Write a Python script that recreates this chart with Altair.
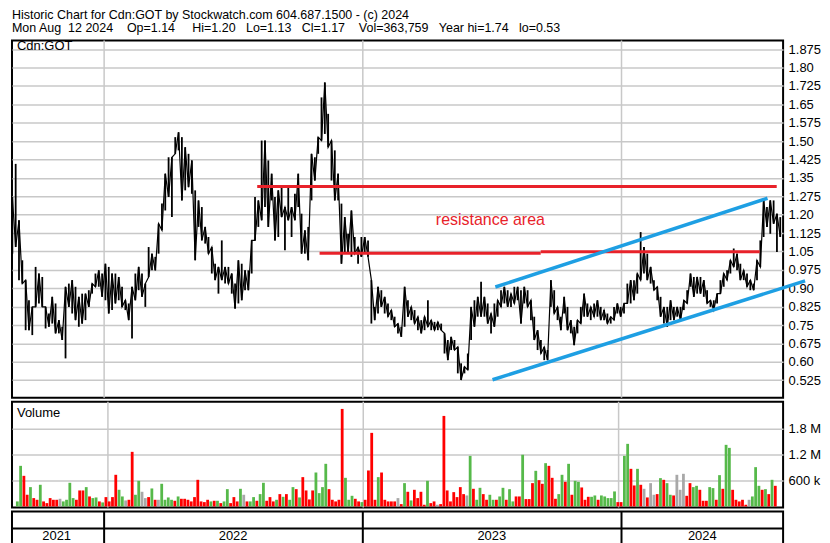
import altair as alt
import pandas as pd

FONT = "Liberation Sans"
RED = "#e8222a"
BLUE = "#1e9fe3"
GRID = "#c8c8c8"

# ---------------- data ----------------
N = 232
START, END = "2021-08-24 12:00", "2024-08-12"

HI = [1.272, 1.407, 1.177, 1.014, 0.933, 0.851, 0.824, 0.987, 0.960, 0.946,
      0.824, 0.797, 0.865, 0.838, 0.770, 0.743, 0.906, 0.919, 0.933, 0.906,
      0.865, 0.878, 0.878, 0.892, 0.919, 0.960, 0.973, 0.960, 1.000, 0.987,
      0.960, 0.960, 0.946, 0.906, 0.851, 0.838, 0.906, 0.960, 0.987, 0.960,
      0.919, 1.068, 1.041, 1.028, 1.163, 1.245, 1.367, 1.434, 1.434, 1.516,
      1.536, 1.516, 1.475, 1.448, 1.421, 1.299, 1.258, 1.231, 1.150, 1.109,
      1.068, 1.000, 0.987, 1.095, 0.987, 0.987, 0.960, 0.919, 1.014, 1.000,
      0.973, 0.973, 1.095, 1.272, 1.258, 1.502, 1.502, 1.421, 1.367, 1.272,
      1.299, 1.312, 1.231, 1.312, 1.231, 1.285, 1.367, 1.204, 1.136, 1.150,
      1.448, 1.434, 1.516, 1.678, 1.739, 1.611, 1.502, 1.462, 1.367, 1.245,
      1.190, 1.122, 1.217, 1.109, 1.068, 1.109, 1.109, 1.095, 0.933, 0.824,
      0.906, 0.892, 0.865, 0.838, 0.811, 0.784, 0.756, 0.743, 0.906, 0.851,
      0.824, 0.811, 0.784, 0.770, 0.784, 0.851, 0.770, 0.763, 0.763, 0.756,
      0.716, 0.689, 0.702, 0.689, 0.661, 0.594, 0.580, 0.634, 0.824, 0.851,
      0.865, 0.926, 0.865, 0.838, 0.797, 0.838, 0.851, 0.892, 0.906, 0.892,
      0.878, 0.906, 0.906, 0.892, 0.906, 0.892, 0.851, 0.784, 0.729, 0.689,
      0.661, 0.648, 0.933, 0.892, 0.824, 0.784, 0.865, 0.824, 0.770, 0.743,
      0.770, 0.824, 0.878, 0.838, 0.824, 0.838, 0.851, 0.824, 0.811, 0.797,
      0.784, 0.824, 0.838, 0.824, 0.838, 0.919, 0.933, 0.933, 0.960, 1.129,
      1.068, 1.041, 0.987, 0.933, 0.906, 0.865, 0.824, 0.824, 0.851, 0.824,
      0.824, 0.824, 0.851, 0.892, 0.960, 0.946, 0.946, 0.946, 0.933, 0.892,
      0.851, 0.851, 0.878, 0.933, 0.960, 0.973, 1.014, 1.062, 1.041, 1.000,
      0.973, 0.960, 0.933, 0.919, 1.014, 1.095, 1.258, 1.231, 1.258, 1.258,
      1.204, 1.190]

LO = [1.041, 1.068, 0.933, 0.919, 0.729, 0.729, 0.709, 0.824, 0.838, 0.824,
      0.736, 0.743, 0.756, 0.716, 0.716, 0.689, 0.614, 0.824, 0.797, 0.770,
      0.743, 0.756, 0.770, 0.824, 0.878, 0.906, 0.906, 0.865, 0.851, 0.797,
      0.811, 0.838, 0.851, 0.824, 0.811, 0.770, 0.695, 0.851, 0.892, 0.865,
      0.824, 0.946, 0.973, 0.973, 1.041, 1.136, 1.217, 1.272, 1.190, 1.448,
      1.462, 1.258, 1.299, 1.312, 1.285, 1.014, 1.150, 1.095, 1.082, 1.041,
      0.960, 0.933, 0.878, 0.933, 0.919, 0.919, 0.878, 0.817, 0.838, 0.851,
      0.892, 0.892, 0.960, 1.095, 1.150, 1.177, 1.231, 1.150, 1.258, 1.095,
      1.109, 1.190, 1.055, 1.177, 1.109, 1.177, 1.231, 1.041, 1.041, 1.014,
      1.258, 1.339, 1.448, 1.502, 1.529, 1.475, 1.339, 1.258, 1.258, 1.000,
      1.041, 1.041, 1.028, 1.041, 1.000, 1.028, 1.041, 1.028, 0.756, 0.770,
      0.797, 0.824, 0.797, 0.784, 0.770, 0.743, 0.716, 0.702, 0.743, 0.784,
      0.770, 0.756, 0.729, 0.716, 0.729, 0.743, 0.729, 0.729, 0.729, 0.729,
      0.634, 0.607, 0.648, 0.648, 0.553, 0.526, 0.553, 0.567, 0.689, 0.743,
      0.784, 0.784, 0.784, 0.756, 0.716, 0.743, 0.784, 0.824, 0.838, 0.824,
      0.824, 0.838, 0.851, 0.756, 0.838, 0.824, 0.770, 0.689, 0.648, 0.634,
      0.607, 0.607, 0.824, 0.797, 0.770, 0.729, 0.797, 0.729, 0.716, 0.668,
      0.716, 0.756, 0.784, 0.784, 0.770, 0.784, 0.784, 0.770, 0.770, 0.756,
      0.756, 0.770, 0.797, 0.784, 0.797, 0.838, 0.838, 0.851, 0.878, 0.933,
      0.960, 0.933, 0.919, 0.892, 0.851, 0.784, 0.756, 0.743, 0.770, 0.770,
      0.784, 0.770, 0.811, 0.838, 0.906, 0.865, 0.878, 0.878, 0.865, 0.838,
      0.824, 0.811, 0.838, 0.878, 0.906, 0.933, 0.960, 0.987, 0.973, 0.933,
      0.933, 0.906, 0.892, 0.892, 0.933, 0.987, 1.109, 1.150, 1.122, 1.163,
      1.048, 1.109]

# volume in thousands of shares
VOL_K = [116, 939, 708, 270, 447, 193, 154, 501, 116, 77,
         193, 154, 154, 177, 116, 154, 547, 193, 154, 370,
         370, 447, 231, 193, 208, 116, 93, 216, 116, 216,
         732, 385, 231, 139, 154, 1263, 270, 593, 339, 193,
         216, 416, 154, 154, 524, 154, 208, 154, 131, 231,
         177, 177, 154, 116, 216, 616, 116, 100, 154, 116,
         131, 131, 77, 116, 400, 77, 216, 116, 408, 270,
         116, 116, 216, 131, 285, 547, 131, 216, 116, 154,
         285, 223, 285, 154, 447, 400, 208, 678, 370, 162,
         370, 785, 308, 447, 986, 400, 154, 116, 154, 2256,
         662, 154, 246, 177, 116, 100, 154, 832, 1702, 154,
         678, 785, 154, 116, 116, 116, 193, 54, 539, 339,
         139, 385, 193, 339, 39, 593, 77, 116, 39, 54,
         2094, 370, 116, 331, 216, 447, 285, 254, 1170, 408,
         154, 431, 285, 154, 270, 154, 154, 231, 431, 154,
         400, 116, 231, 231, 1194, 170, 170, 539, 824, 608,
         524, 1001, 939, 662, 177, 285, 732, 570, 986, 270,
         593, 570, 439, 154, 223, 223, 254, 154, 254, 231,
         193, 193, 347, 100, 100, 1170, 1448, 870, 485, 870,
         501, 408, 208, 539, 270, 285, 655, 616, 539, 270,
         254, 732, 385, 755, 246, 539, 447, 477, 385, 131,
         131, 447, 424, 154, 724, 408, 1425, 1355, 385, 154,
         116, 154, 39, 154, 231, 909, 477, 385, 400, 285,
         616, 477]

# G = up day (green), R = down day (red), N = unchanged (grey)
DIR = ("GGRRGRRGRR" "RRRNGGGGRR" "RGRGGRGRRR" "RGGNRRGGNN" "RGRNGGGGRG"
       "RRRRRRRRRG" "RGRGGRRRGN" "RGGRGGRRRG" "RGRGGRGRRR" "RGGGGRRRRR"
       "GGGRRGRRRR" "GRRRRRNRGR" "GRRRRGRRNR" "RRRRRRRNGR" "GGRRGGRGGR"
       "GGRRGRRRGR" "RGRRRGGRGR" "GGRRRGGRGG" "GGGRRGGRRG" "RNRNNRGRGG"
       "RNNNRRGGRR" "RGGRGRGGRR" "RRRNGGGRGR" "GR")

PRICE_TICKS = [0.525, 0.6, 0.675, 0.75, 0.825, 0.9, 0.975, 1.05, 1.125, 1.2,
               1.275, 1.35, 1.425, 1.5, 1.575, 1.65, 1.725, 1.8, 1.875]
VOL_TICKS = [600000, 1200000, 1800000]
YEARS = ["2021", "2022", "2023", "2024"]
YEAR_CENTERS = ["2021-10-26", "2022-07-02", "2023-07-02", "2024-04-24"]
YEAR_STARTS = ["2022-01-01", "2023-01-01", "2024-01-01"]

RES_START = ["2022-08-05", "2022-11-01", "2023-09-09"]
RES_END = ["2024-08-07", "2023-09-09", "2024-07-14"]
RES_PRICE = [1.315, 1.043, 1.049]

TREND_START = ["2023-07-07", "2023-07-03"]
TREND_P1 = [0.905, 0.527]
TREND_END = ["2024-07-25", "2024-09-16"]
TREND_P2 = [1.267, 0.930]

NOTE_DATE, NOTE_PRICE, NOTE_TEXT = "2023-06-30", 1.177, "resistance area"

S = "\u00a0"
TITLE = "Historic Chart for Cdn:GOT by Stockwatch.com 604.687.1500 - (c) 2024"
SUBTITLE = ("Mon Aug " + S + "12 2024 " + S * 3 + "Op=1.14 " + S * 4 + "Hi=1.20 " + S * 2 +
            "Lo=1.13 " + S * 2 + "Cl=1.17 " + S * 3 + "Vol=363,759 " + S * 2 +
            "Year hi=1.74 " + S * 2 + "lo=0.53")

# ---------------- tables ----------------
dates = pd.date_range(START, END, periods=N)
price_df = pd.DataFrame({"date": dates, "hi": HI, "lo": LO,
                         "zig": [h if k % 2 == 0 else l for k, (h, l) in enumerate(zip(HI, LO))]})
vol_df = pd.DataFrame({"date": dates, "vol": [v * 1000 for v in VOL_K], "dir": list(DIR)})
grid_df = pd.DataFrame({"date": pd.to_datetime(YEAR_STARTS)})
year_df = pd.DataFrame({"date": pd.to_datetime(YEAR_CENTERS), "year": YEARS})
res_df = pd.DataFrame({"start": pd.to_datetime(RES_START), "end": pd.to_datetime(RES_END),
                       "price": RES_PRICE})
trend_df = pd.DataFrame({"start": pd.to_datetime(TREND_START), "p1": TREND_P1,
                         "end": pd.to_datetime(TREND_END), "p2": TREND_P2})
note_df = pd.DataFrame({"date": [pd.Timestamp(NOTE_DATE)], "price": [NOTE_PRICE], "t": [NOTE_TEXT]})
one = pd.DataFrame({"a": [0]})

# panel heights (each panel's frame adds a little space between stacked panels)
W, H_PRICE, H_VOL, H_BAND = 773, 358, 106, 33

XDOM = [alt.DateTime(year=2021, month=8, date=24), alt.DateTime(year=2024, month=8, date=16)]
xs = alt.Scale(domain=XDOM)


def X(field):
    return alt.X(field, type="temporal", scale=xs, axis=None)


yscale = alt.Scale(domain=[0.4538, 1.9096], nice=False, zero=False)
yaxis = alt.Axis(orient="right", values=PRICE_TICKS, grid=True, ticks=False, domain=False,
                 labelPadding=5, title=None,
                 labelExpr="slice(format(datum.value, '.3f'), -1) == '0' ? format(datum.value, '.2f') : format(datum.value, '.3f')")


def Y(field):
    return alt.Y(field, type="quantitative", scale=yscale, axis=yaxis)


# ---------------- price panel ----------------
p_grid = alt.Chart(grid_df).mark_rule(color=GRID, strokeWidth=1.5).encode(x=X("date"))
p_zig = alt.Chart(price_df).mark_line(color="black", strokeWidth=1.2).encode(
    x=X("date"), y=Y("zig"))
p_bars = alt.Chart(price_df).mark_rule(color="black", strokeWidth=1.8).encode(
    x=X("date"), y=Y("lo"), y2="hi:Q")
p_res = alt.Chart(res_df).mark_rule(color=RED, strokeWidth=3).encode(
    x=X("start"), x2="end:T", y=Y("price"))
p_trend = alt.Chart(trend_df).mark_rule(color=BLUE, strokeWidth=3.5).encode(
    x=X("start"), x2="end:T", y=Y("p1"), y2="p2:Q")
p_note = alt.Chart(note_df).mark_text(font=FONT, fontSize=16, color=RED, align="center",
                                      baseline="middle").encode(
    x=X("date"), y=Y("price"), text="t:N")
p_label = alt.Chart(one).mark_text(font=FONT, fontSize=13, color="black", align="left",
                                   baseline="middle").encode(
    x=alt.value(5), y=alt.value(5), text=alt.value("Cdn:GOT"))
price = alt.layer(p_grid, p_zig, p_bars, p_res, p_trend, p_note, p_label).properties(
    width=W, height=H_PRICE)

# ---------------- volume panel ----------------
vscale = alt.Scale(domain=[-23100, 2423200], nice=False, zero=False)
vaxis = alt.Axis(orient="right", values=VOL_TICKS, grid=True, ticks=False, domain=False,
                 labelPadding=5, title=None,
                 labelExpr="datum.value == 600000 ? '600 k' : format(datum.value / 1000000, '.1f') + ' M'")
v_grid = alt.Chart(grid_df).mark_rule(color=GRID, strokeWidth=1.5).encode(x=X("date"))
v_bars = alt.Chart(vol_df).mark_bar(width=2.8).encode(
    x=X("date"),
    y=alt.Y("vol:Q", scale=vscale, axis=vaxis),
    y2=alt.value(H_VOL),
    color=alt.Color("dir:N", scale=alt.Scale(domain=["G", "R", "N"],
                                              range=["#56b94a", "#ff0000", "#a8a8a8"]),
                    legend=None))
v_label = alt.Chart(one).mark_text(font=FONT, fontSize=13, color="black", align="left",
                                   baseline="middle").encode(
    x=alt.value(5), y=alt.value(11), text=alt.value("Volume"))
volume = alt.layer(v_grid, v_bars, v_label).properties(width=W, height=H_VOL)

# ---------------- year band ----------------
b_sep = alt.Chart(grid_df).mark_rule(color="black", strokeWidth=2).encode(
    x=X("date"), y=alt.value(0), y2=alt.value(H_BAND))
b_line = alt.Chart(one).mark_rule(color="black", strokeWidth=2).encode(
    x=alt.value(0), x2=alt.value(W), y=alt.value(17))
b_text = alt.Chart(year_df).mark_text(font=FONT, fontSize=13, color="black", align="center",
                                      baseline="middle").encode(
    x=X("date"), y=alt.value(25), text="year:N")
band = alt.layer(b_sep, b_line, b_text).properties(width=W, height=H_BAND)

chart = alt.vconcat(price, volume, band, spacing=0).properties(
    padding=0,
    title=alt.TitleParams(text=TITLE, subtitle=SUBTITLE, anchor="start"),
).configure_view(
    stroke="black", strokeWidth=2
).configure_axis(
    labelFont=FONT, labelFontSize=13, labelColor="black", gridColor=GRID, gridWidth=1.5
).configure_title(
    font=FONT, fontSize=12.5, fontWeight="normal", color="black",
    subtitleFont=FONT, subtitleFontSize=12.5, subtitleColor="black",
    subtitlePadding=1, offset=0, frame="group"
)

chart.save("out.html", embed_options={"renderer": "svg", "actions": False})
